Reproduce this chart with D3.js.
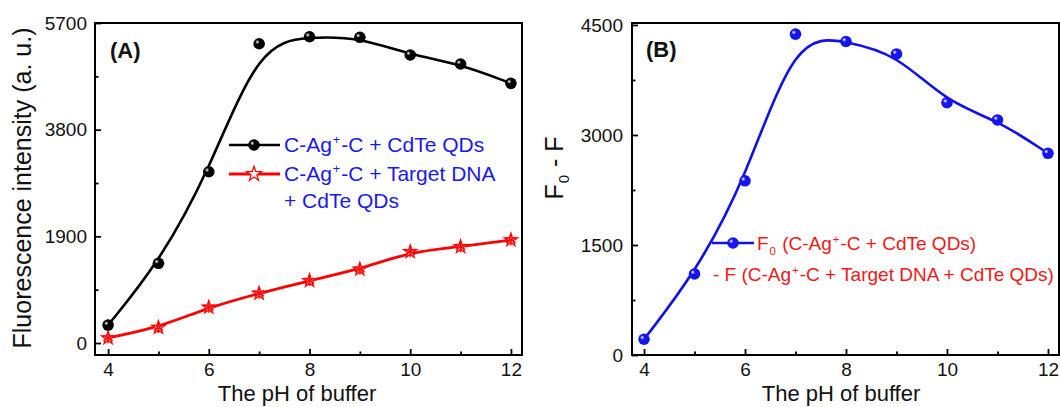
<!DOCTYPE html>
<html>
<head>
<meta charset="utf-8">
<script src="https://cdn.jsdelivr.net/npm/d3@7/dist/d3.min.js"></script>
<style>
  html, body { margin: 0; padding: 0; background: #fff; }
  svg { display: block; font-family: Arial, "Liberation Sans", sans-serif; }
</style>
</head>
<body>
<svg id="chart" width="1060" height="407"></svg>
<script>
// pH values of the buffer
const ph = [4, 5, 6, 7, 8, 9, 10, 11, 12];
// Panel A: fluorescence intensity (a. u.)
const qdOnly = [320, 1420, 3050, 5330, 5455, 5445, 5130, 4970, 4625];
const qdTarget = [90, 275, 635, 885, 1110, 1315, 1625, 1715, 1835];
// Panel B: quenching F0 - F
const quench = [215, 1105, 2375, 4375, 4275, 4105, 3440, 3205, 2750];

const xTicks = [4, 6, 8, 10, 12];
const xMinor = [5, 7, 9, 11];
const yTicksA = [0, 1900, 3800, 5700];
const yMinorA = [950, 2850, 4750];
const yTicksB = [0, 1500, 3000, 4500];
const yMinorB = [750, 2250, 3750];

const svg = d3.select("#chart");
svg.append("rect").attr("width", 1060).attr("height", 407).attr("fill", "#fff");

const defs = svg.append("defs");
function sphereGrad(id, base) {
  const g = defs.append("radialGradient").attr("id", id)
    .attr("cx", "35%").attr("cy", "35%").attr("r", "65%");
  g.append("stop").attr("offset", "0%").attr("stop-color", "#ffffff");
  g.append("stop").attr("offset", "30%").attr("stop-color", base);
  g.append("stop").attr("offset", "100%").attr("stop-color", base);
}
sphereGrad("ballBlack", "#000000");
sphereGrad("ballBlue", "#1515f0");

// Text with superscript / subscript parts: parts = [[text, mode], ...]
// The baseline shift of a raised/lowered part is undone on the part after it.
function richText(sel, parts, size) {
  let carry = 0;
  parts.forEach(([t, mode]) => {
    const ts = sel.append("tspan").text(t);
    let shift = 0;
    if (mode === "sup") shift = -size * 0.38;
    if (mode === "sub") shift = size * 0.25;
    if (mode) ts.attr("font-size", size * 0.6).attr("dx", 1);
    else if (carry) ts.attr("dx", 1);
    const dy = shift - carry;
    if (dy) ts.attr("dy", dy);
    carry = shift;
  });
}

function starMarker(g, cx, cy, open) {
  const s = g.append("g").attr("transform", `translate(${cx},${cy})`);
  s.append("path").attr("d", d3.symbol(d3.symbolStar, open ? 70 : 55)())
    .attr("fill", open ? "#fff" : "#ff9a9a").attr("stroke", "#ff0000").attr("stroke-width", 1.2);
  if (!open) {
    for (let a = 0; a < 3; a++) {
      const ang = Math.PI / 2 + a * Math.PI / 3;
      s.append("line")
        .attr("x1", 5.5 * Math.cos(ang)).attr("y1", 5.5 * Math.sin(ang))
        .attr("x2", -5.5 * Math.cos(ang)).attr("y2", -5.5 * Math.sin(ang))
        .attr("stroke", "#ff0000").attr("stroke-width", 1.3);
    }
  }
}

function frameAxes(g, x, y, yMajor, yMinor, left, right, top, bottom, yPad) {
  const fontSize = 19;
  g.append("g").attr("transform", `translate(0,${bottom})`)
    .call(d3.axisBottom(x).tickValues(xTicks).tickSizeInner(-6).tickSizeOuter(0).tickPadding(8));
  g.append("g").attr("transform", `translate(0,${bottom})`)
    .call(d3.axisBottom(x).tickValues(xMinor).tickFormat("").tickSizeInner(-3.5).tickSizeOuter(0));
  g.append("g").attr("transform", `translate(${left},0)`)
    .call(d3.axisLeft(y).tickValues(yMajor).tickFormat(d3.format("d")).tickSizeInner(-6).tickSizeOuter(0).tickPadding(yPad));
  g.append("g").attr("transform", `translate(${left},0)`)
    .call(d3.axisLeft(y).tickValues(yMinor).tickFormat("").tickSizeInner(-3.5).tickSizeOuter(0));
  g.selectAll(".domain").remove();
  // minor ticks carry no labels
  g.selectAll(".tick text").filter(function () { return this.textContent === ""; }).remove();
  g.selectAll(".tick line").attr("stroke", "#000").attr("stroke-width", 1.8);
  g.selectAll(".tick text").attr("font-size", fontSize).attr("fill", "#111")
    .attr("font-family", "Arial, 'Liberation Sans', sans-serif");
  g.append("rect").attr("x", left).attr("y", top)
    .attr("width", right - left).attr("height", bottom - top)
    .attr("fill", "none").attr("stroke", "#000").attr("stroke-width", 2);
}

// ---------- Panel A ----------
{
  const L = 95, R = 522, T = 23, B = 355;
  const x = d3.scaleLinear().domain([3.74, 12.22]).range([L, R]);
  const y = d3.scaleLinear().domain([-213.75, 5700]).range([B, T]);
  const g = svg.append("g");
  const line = d3.line().curve(d3.curveBasis).x((d, i) => x(ph[i])).y(d => y(d));

  g.append("path").datum(qdTarget).attr("d", line)
    .attr("fill", "none").attr("stroke", "#ff0000").attr("stroke-width", 2.8);
  g.append("path").datum(qdOnly).attr("d", line)
    .attr("fill", "none").attr("stroke", "#000").attr("stroke-width", 2.6);

  qdTarget.forEach((v, i) => starMarker(g, x(ph[i]), y(v), false));
  g.selectAll("circle.pt").data(qdOnly).join("circle").attr("class", "pt")
    .attr("cx", (d, i) => x(ph[i])).attr("cy", d => y(d)).attr("r", 5.8)
    .attr("fill", "url(#ballBlack)");

  frameAxes(g, x, y, yTicksA, yMinorA, L, R, T, B, 8);

  g.append("text").attr("x", 110).attr("y", 58).attr("font-size", 22)
    .attr("font-weight", "bold").attr("fill", "#111").text("(A)");

  g.append("text").attr("x", 297).attr("y", 401).attr("text-anchor", "middle")
    .attr("font-size", 22).attr("fill", "#111").text("The pH of buffer");
  g.append("text").attr("transform", "translate(31,188) rotate(-90)")
    .attr("text-anchor", "middle").attr("font-size", 25).attr("fill", "#111")
    .text("Fluorescence intensity (a. u.)");

  // legend
  const lg = g.append("g");
  lg.append("line").attr("x1", 229).attr("x2", 280).attr("y1", 145).attr("y2", 145)
    .attr("stroke", "#000").attr("stroke-width", 2.6);
  lg.append("circle").attr("cx", 254).attr("cy", 145).attr("r", 5.8).attr("fill", "url(#ballBlack)");
  lg.append("line").attr("x1", 229).attr("x2", 280).attr("y1", 174).attr("y2", 174)
    .attr("stroke", "#ff0000").attr("stroke-width", 2.8);
  starMarker(lg, 254, 174, true);
  const blue = "#1a1ae6";
  richText(lg.append("text").attr("x", 284).attr("y", 152).attr("font-size", 21).attr("fill", blue),
    [["C-Ag"], ["+", "sup"], ["-C + CdTe QDs"]], 21);
  richText(lg.append("text").attr("x", 284).attr("y", 181).attr("font-size", 21).attr("fill", blue),
    [["C-Ag"], ["+", "sup"], ["-C + Target DNA"]], 21);
  lg.append("text").attr("x", 284).attr("y", 208).attr("font-size", 21).attr("fill", blue)
    .text("+ CdTe QDs");
}

// ---------- Panel B ----------
{
  const L = 632, R = 1059, T = 23, B = 355;
  const x = d3.scaleLinear().domain([3.762, 12.218]).range([L, R]);
  const y = d3.scaleLinear().domain([0, 4527]).range([B, T]);
  const g = svg.append("g");
  const line = d3.line().curve(d3.curveBasis).x((d, i) => x(ph[i])).y(d => y(d));

  g.append("path").datum(quench).attr("d", line)
    .attr("fill", "none").attr("stroke", "#1010ee").attr("stroke-width", 2.6);
  g.selectAll("circle.pt").data(quench).join("circle").attr("class", "pt")
    .attr("cx", (d, i) => x(ph[i])).attr("cy", d => y(d)).attr("r", 5.8)
    .attr("fill", "url(#ballBlue)");

  frameAxes(g, x, y, yTicksB, yMinorB, L, R, T, B, 9);

  g.append("text").attr("x", 646).attr("y", 57).attr("font-size", 22)
    .attr("font-weight", "bold").attr("fill", "#111").text("(B)");

  g.append("text").attr("x", 841).attr("y", 401).attr("text-anchor", "middle")
    .attr("font-size", 22).attr("fill", "#111").text("The pH of buffer");
  richText(g.append("text").attr("transform", "translate(563,168) rotate(-90)")
    .attr("text-anchor", "middle").attr("font-size", 25).attr("fill", "#111"),
    [["F"], ["0", "sub"], [" - F"]], 25);

  // legend
  const lg = g.append("g");
  lg.append("line").attr("x1", 712).attr("x2", 754).attr("y1", 243).attr("y2", 243)
    .attr("stroke", "#1010ee").attr("stroke-width", 2.6);
  lg.append("circle").attr("cx", 733).attr("cy", 243).attr("r", 5.8).attr("fill", "url(#ballBlue)");
  const red = "#f01818";
  richText(lg.append("text").attr("x", 757).attr("y", 250).attr("font-size", 19).attr("fill", red),
    [["F"], ["0", "sub"], [" (C-Ag"], ["+", "sup"], ["-C + CdTe QDs)"]], 19);
  richText(lg.append("text").attr("x", 713).attr("y", 281).attr("font-size", 19).attr("fill", red),
    [["- F (C-Ag"], ["+", "sup"], ["-C + Target DNA + CdTe QDs)"]], 19);
}
</script>
</body>
</html>
